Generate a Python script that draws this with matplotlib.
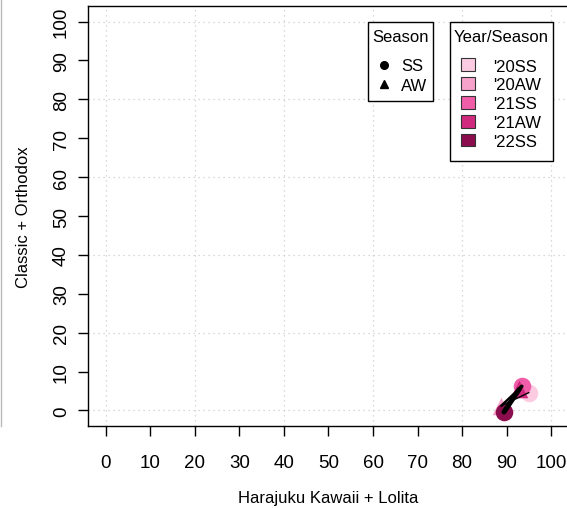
import numpy as np
import matplotlib.pyplot as plt
from matplotlib.lines import Line2D
from matplotlib.patches import Patch, Rectangle

plt.rcParams['font.family'] = ['Liberation Sans', 'DejaVu Sans']

# datos
etiquetas = ["'20SS", "'20AW", "'21SS", "'21AW", "'22SS"]
temporada = ["SS", "AW", "SS", "AW", "SS"]
kawaii_lolita = [95.0, 88.8, 93.4, 92.8, 89.4]
classic_orthodox = [4.6, 1.2, 6.2, 5.4, -0.4]
colores = ['#FBCBE1', '#F6A2CB', '#EF5DA8', '#D02A7E', '#8B0D4D']
ancho_linea = [1.0, 1.8, 2.6, 3.6]

fig = plt.figure(figsize=(5.67, 5.10), dpi=100)
ax = fig.add_axes([88/567, 83/510, 481/567, 420/510])

# grilla cada 20
for v in range(0, 101, 20):
    ax.axhline(v, color='#cccccc', ls=(0, (1, 3)), lw=0.9, zorder=0)
    ax.axvline(v, color='#cccccc', ls=(0, (1, 3)), lw=0.9, zorder=0)

# puntos
for i in range(len(etiquetas)):
    m = 'o' if temporada[i] == "SS" else '^'
    ax.scatter(kawaii_lolita[i], classic_orthodox[i], marker=m, s=160,
               color=colores[i], zorder=3, linewidths=0)

# trayectoria
for i in range(len(etiquetas) - 1):
    ax.plot(kawaii_lolita[i:i+2], classic_orthodox[i:i+2], color='black',
            lw=ancho_linea[i], solid_capstyle='round', zorder=4)

ax.set_xlim(-4, 104)
ax.set_ylim(-4, 104)
ax.set_xticks(range(0, 101, 10))
ax.set_yticks(range(0, 101, 10))
ax.tick_params(length=7, width=1, labelsize=13.5, pad=13)
ax.tick_params(axis='y', pad=6)
plt.setp(ax.get_yticklabels(), rotation=90, va='center')
ax.set_xlabel('Harajuku Kawaii + Lolita', fontsize=12, labelpad=14)
ax.set_ylabel('Classic + Orthodox', fontsize=12, labelpad=16)
for s in ax.spines.values():
    s.set_linewidth(1)

# cajas de las leyendas (estilo R, mas aire arriba/abajo)
ax.add_patch(Rectangle((0.5825, 0.7738), 0.1357, 0.1881, transform=ax.transAxes,
                       facecolor='white', edgecolor='black', lw=1, zorder=5))
ax.add_patch(Rectangle((0.7516, 0.631), 0.215, 0.331, transform=ax.transAxes,
                       facecolor='white', edgecolor='black', lw=1, zorder=5))

# leyendas
h1 = [Line2D([], [], marker='o', ls='', color='black', markersize=5.5),
      Line2D([], [], marker='^', ls='', color='black', markersize=5.5)]
leg1 = ax.legend(h1, ['SS', 'AW'], title='Season', loc='upper center',
                 bbox_to_anchor=(0.5825 + 0.1357/2, 0.962), borderaxespad=0,
                 fontsize=12, title_fontsize=12, frameon=False,
                 handletextpad=0.5, handlelength=1.1,
                 borderpad=0.45, labelspacing=0.28)
leg1._legend_box.sep = 10
leg1.set_zorder(6)
ax.add_artist(leg1)

h2 = [Patch(facecolor=c, edgecolor='#333333', lw=0.8) for c in colores]
leg2 = ax.legend(h2, etiquetas, title='Year/Season', loc='upper center',
                 bbox_to_anchor=(0.7516 + 0.215/2, 0.962), borderaxespad=0,
                 fontsize=12, title_fontsize=12, frameon=False,
                 handlelength=0.8, handleheight=0.8,
                 handletextpad=1.1, labelspacing=0.22, borderpad=0.45)
leg2._legend_box.sep = 10
leg2.set_zorder(6)

# borde gris a la izquierda
fig.add_artist(Line2D([1/567, 1/567], [83/510, 1], color='#bbbbbb', lw=1))

fig.savefig('out.png', dpi=100)
